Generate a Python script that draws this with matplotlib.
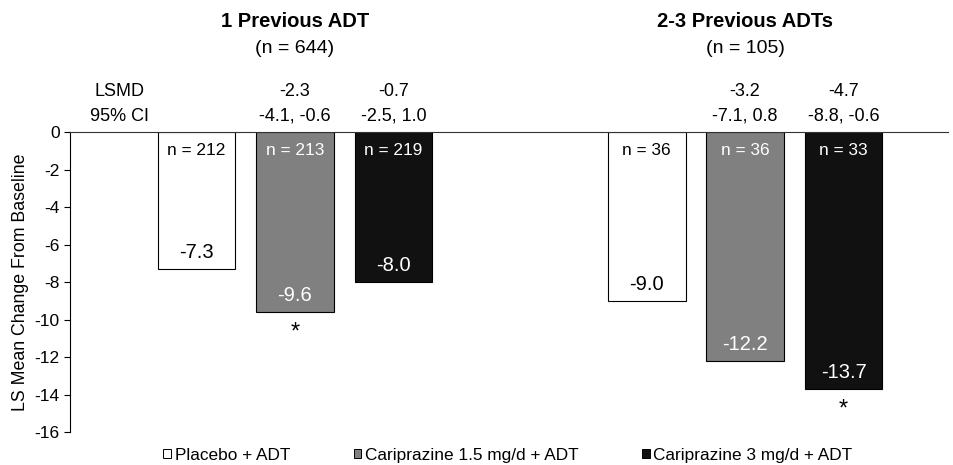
import matplotlib.pyplot as plt
from matplotlib.patches import Patch

plt.rcParams['font.family'] = ['Liberation Sans', 'DejaVu Sans']
plt.rcParams['axes.unicode_minus'] = False

# dane
grupy = ['1 Previous ADT', '2-3 Previous ADTs']
grupy_n = ['(n = 644)', '(n = 105)']
leczenie = ['Placebo + ADT', 'Cariprazine 1.5 mg/d + ADT', 'Cariprazine 3 mg/d + ADT']
kolory = ['white', '#808080', '#111111']
kolory_tekstu = ['black', 'white', 'white']

zmiana_1 = [-7.3, -9.6, -8.0]
zmiana_2 = [-9.0, -12.2, -13.7]
n_1 = [212, 213, 219]
n_2 = [36, 36, 33]
lsmd_1 = ['', '-2.3', '-0.7']
lsmd_2 = ['', '-3.2', '-4.7']
ci_1 = ['', '-4.1, -0.6', '-2.5, 1.0']
ci_2 = ['', '-7.1, 0.8', '-8.8, -0.6']
gwiazdka_1 = [False, True, False]
gwiazdka_2 = [False, False, True]

fig = plt.figure(figsize=(9.54, 4.65), dpi=100)
ax = fig.add_axes([70 / 954, 1 - 432 / 465, 878 / 954, 300 / 465])

srodki = [0.0, 4.57]
szer = 0.79
dane = [(zmiana_1, n_1, lsmd_1, ci_1, gwiazdka_1), (zmiana_2, n_2, lsmd_2, ci_2, gwiazdka_2)]

for g, (zm, nn, ls, ci, gw) in enumerate(dane):
    c = srodki[g]
    ax.text(c, 5.87, grupy[g], ha='center', va='center', fontsize=14.5, fontweight='bold')
    ax.text(c, 4.48, grupy_n[g], ha='center', va='center', fontsize=14)
    for i in range(3):
        x = c + (i - 1)
        ax.bar(x, zm[i], width=szer, color=kolory[i], edgecolor='black', linewidth=0.8)
        ax.text(x, -0.98, f'n = {nn[i]}', ha='center', va='center', fontsize=12.4, color=kolory_tekstu[i])
        ax.text(x, zm[i] + 0.88, f'{zm[i]:.1f}', ha='center', va='center', fontsize=14.5, color=kolory_tekstu[i])
        if ls[i]:
            ax.text(x, 2.14, ls[i], ha='center', va='center', fontsize=13)
            ax.text(x, 0.85, ci[i], ha='center', va='center', fontsize=13)
        if gw[i]:
            ax.text(x, zm[i] - 1.1, '*', ha='center', va='center', fontsize=17)

ax.text(-1.78, 2.14, 'LSMD', ha='center', va='center', fontsize=13)
ax.text(-1.78, 0.85, '95% CI', ha='center', va='center', fontsize=13)

ax.set_xlim(-2.284, 6.63)
ax.set_ylim(-16, 0)
ax.set_yticks(range(-16, 1, 2))
ax.set_xticks([])
ax.tick_params(axis='y', labelsize=12.5, length=4, width=0.8)
ax.set_ylabel('LS Mean Change From Baseline', fontsize=12.8, labelpad=4)
for s in ['right', 'bottom']:
    ax.spines[s].set_visible(False)
ax.spines['left'].set_linewidth(0.8)
ax.spines['top'].set_linewidth(0.8)
ax.spines['top'].set_color('#333333')

uchwyty = [Patch(facecolor=kolory[i], edgecolor='black', linewidth=0.7) for i in range(3)]
fig.legend(uchwyty, leczenie, loc='center', bbox_to_anchor=(508 / 954, 1 - 455 / 465), ncol=3,
           frameon=False, fontsize=12.4, handlelength=0.45, handleheight=0.45, handletextpad=0.2,
           columnspacing=3.7)

fig.savefig('out.png', dpi=100)
